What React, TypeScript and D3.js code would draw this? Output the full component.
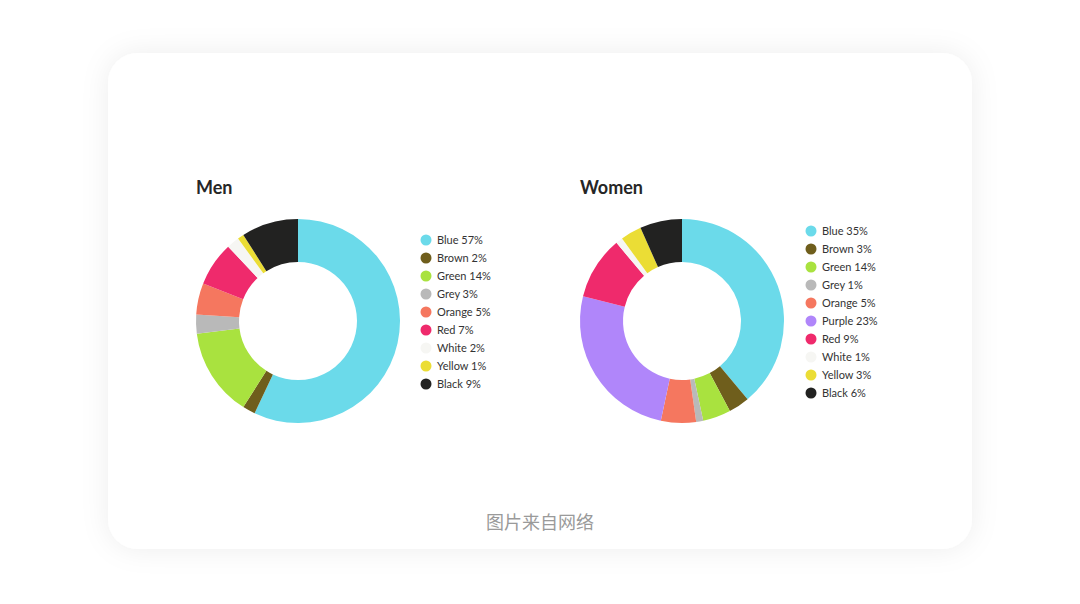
import React, { useEffect, useRef } from 'react';
import * as d3 from 'd3';

// Men: values as shown in the legend
const menNames = ['Blue', 'Brown', 'Green', 'Grey', 'Orange', 'Red', 'White', 'Yellow', 'Black'];
const menValues = [57, 2, 14, 3, 5, 7, 2, 1, 9];
const menLabels = ['Blue 57%', 'Brown 2%', 'Green 14%', 'Grey 3%', 'Orange 5%', 'Red 7%', 'White 2%', 'Yellow 1%', 'Black 9%'];

// Women: slice sizes (green slice is drawn much smaller than its label)
const womenNames = ['Blue', 'Brown', 'Green', 'Grey', 'Orange', 'Purple', 'Red', 'White', 'Yellow', 'Black'];
const womenValues = [35, 3, 4, 1, 5, 23, 9, 1, 3, 6];
const womenLabels = ['Blue 35%', 'Brown 3%', 'Green 14%', 'Grey 1%', 'Orange 5%', 'Purple 23%', 'Red 9%', 'White 1%', 'Yellow 3%', 'Black 6%'];

const colorMap: Record<string, string> = {
  Blue: '#6bdaea',
  Brown: '#6f5e1c',
  Green: '#a9e23f',
  Grey: '#b9b9b9',
  Orange: '#f5775f',
  Purple: '#b086fa',
  Red: '#ef2a6c',
  White: '#f6f6f3',
  Yellow: '#ebdd35',
  Black: '#222221',
};

const W = 1080;
const H = 604;

export default function App() {
  const ref = useRef<SVGSVGElement>(null);

  useEffect(() => {
    if (!ref.current) return;
    const svg = d3.select(ref.current);
    svg.selectAll('*').remove();

    // card shadow
    const defs = svg.append('defs');
    const filter = defs.append('filter')
      .attr('id', 'card-shadow')
      .attr('x', '-20%').attr('y', '-20%')
      .attr('width', '140%').attr('height', '140%');
    filter.append('feDropShadow')
      .attr('dx', 0).attr('dy', 0)
      .attr('stdDeviation', 14)
      .attr('flood-color', '#000')
      .attr('flood-opacity', 0.07);

    svg.append('rect')
      .attr('width', W).attr('height', H)
      .attr('fill', '#ffffff');

    svg.append('rect')
      .attr('x', 108).attr('y', 53)
      .attr('width', 864).attr('height', 496)
      .attr('rx', 30).attr('ry', 30)
      .attr('fill', '#ffffff')
      .attr('filter', 'url(#card-shadow)');

    const drawDonut = (
      cx: number,
      cy: number,
      title: string,
      names: string[],
      values: number[],
      labels: string[],
      legendX: number,
      legendY: number
    ) => {
      const g = svg.append('g');

      g.append('text')
        .attr('x', cx - 102)
        .attr('y', cy - 127)
        .attr('font-family', 'Lato, "Open Sans", sans-serif')
        .attr('font-weight', 700)
        .attr('font-size', 18)
        .attr('fill', '#262626')
        .text(title);

      const pie = d3.pie<number>().sort(null).value(d => d);
      const arc = d3.arc<d3.PieArcDatum<number>>()
        .innerRadius(59)
        .outerRadius(102);

      g.append('g')
        .attr('transform', `translate(${cx},${cy})`)
        .selectAll('path')
        .data(pie(values))
        .join('path')
        .attr('d', arc)
        .attr('fill', (_, i) => colorMap[names[i]]);

      const legend = g.append('g')
        .attr('transform', `translate(${legendX},${legendY})`);
      const y = d3.scalePoint<number>()
        .domain(d3.range(labels.length))
        .range([0, (labels.length - 1) * 18]);

      const rows = legend.selectAll('g')
        .data(labels)
        .join('g')
        .attr('transform', (_, i) => `translate(0,${y(i)})`);

      rows.append('circle')
        .attr('r', 5.5)
        .attr('fill', (_, i) => colorMap[names[i]]);

      rows.append('text')
        .attr('x', 11)
        .attr('dy', '0.36em')
        .attr('font-family', 'Lato, "Open Sans", sans-serif')
        .attr('font-size', 11)
        .attr('fill', '#333333')
        .text(d => d);
    };

    drawDonut(298, 321, 'Men', menNames, menValues, menLabels, 426, 240);
    drawDonut(682, 321, 'Women', womenNames, womenValues, womenLabels, 811, 231);

    svg.append('text')
      .attr('x', 540)
      .attr('y', 529)
      .attr('text-anchor', 'middle')
      .attr('font-family', '"Noto Sans CJK SC", sans-serif')
      .attr('font-size', 18)
      .attr('fill', '#9a9a9a')
      .text('图片来自网络');
  }, []);

  return (
    <svg
      ref={ref}
      width={W}
      height={H}
      style={{ position: 'absolute', left: 0, top: 0 }}
    />
  );
}
